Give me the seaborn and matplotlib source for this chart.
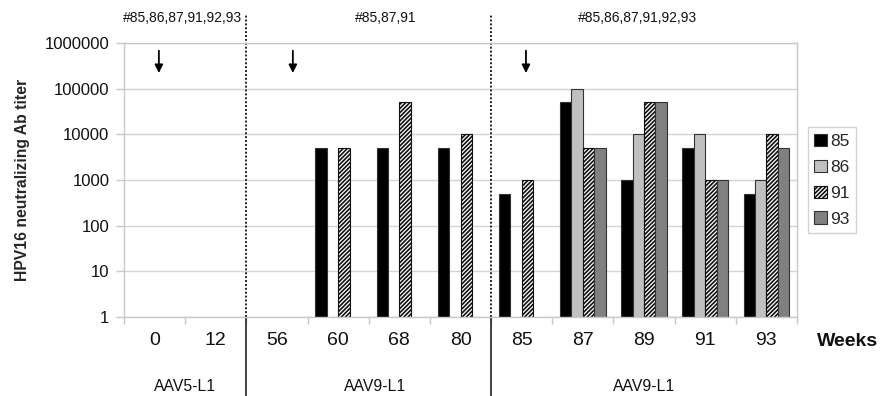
import numpy as np
import pandas as pd
import matplotlib
matplotlib.use("Agg")
import matplotlib.pyplot as plt
import matplotlib.transforms as mtransforms
from matplotlib.ticker import FixedLocator, FuncFormatter, NullLocator, NullFormatter
import seaborn as sns

nan = np.nan
weeks = ['0', '12', '56', '60', '68', '80', '85', '87', '89', '91', '93']
animals = ['85', '86', '91', '93']
titer_85 = [nan, nan, nan, 5000, 5000, 5000, 500, 50000, 1000, 5000, 500]
titer_86 = [nan, nan, nan, nan, nan, nan, nan, 100000, 10000, 10000, 1000]
titer_91 = [nan, nan, nan, 5000, 50000, 10000, 1000, 5000, 50000, 1000, 10000]
titer_93 = [nan, nan, nan, nan, nan, nan, nan, 5000, 50000, 1000, 5000]
vector_labels = ['AAV5-L1', 'AAV9-L1', 'AAV9-L1']
cohort_labels = ['#85,86,87,91,92,93', '#85,87,91', '#85,86,87,91,92,93']
colors = {'85': '#000000', '86': '#c0c0c0', '91': '#ffffff', '93': '#808080'}

sns.set_style("white")
plt.rcParams['font.family'] = ['Liberation Sans', 'DejaVu Sans']
plt.rcParams['hatch.linewidth'] = 1.2

rows = []
for a, vals in zip(animals, [titer_85, titer_86, titer_91, titer_93]):
    for w, v in zip(weeks, vals):
        rows.append({'week': w, 'animal': a, 'titer': v})
df = pd.DataFrame(rows).dropna()

fig = plt.figure(figsize=(8.92, 3.96), dpi=100)
ax = fig.add_axes([124 / 892, 1 - 317 / 396, 673 / 892, 274 / 396])

sns.barplot(data=df, x='week', y='titer', hue='animal', order=weeks,
            hue_order=animals, palette=colors, width=0.745, gap=0,
            errorbar=None, edgecolor='#333333', linewidth=0.8,
            legend=False, ax=ax)
ax.set_yscale('log')

for bar in ax.containers[2]:
    bar.set_hatch('////////')
    bar.set_facecolor('white')
    bar.set_edgecolor('#111111')

ax.set_xlim(-0.5, len(weeks) - 0.5)
ax.set_ylim(1, 1e6)

grid_c = '#c8c8c8'
ax.yaxis.set_major_locator(FixedLocator([1, 10, 100, 1000, 1e4, 1e5, 1e6]))
ax.yaxis.set_minor_locator(NullLocator())
ax.yaxis.set_major_formatter(FuncFormatter(lambda v, p: f"{int(round(v))}"))
ax.grid(axis='y', color='#d4d4d4', linewidth=1)
ax.set_axisbelow(True)
for s in ax.spines.values():
    s.set_color(grid_c)
    s.set_linewidth(1)
ax.tick_params(axis='y', which='major', length=6, color=grid_c, width=1,
               pad=4.5, labelsize=12, labelcolor='#111111', left=True)
ax.tick_params(axis='x', which='major', length=0, pad=11, labelsize=14,
               labelcolor='#111111')
ax.xaxis.set_minor_locator(FixedLocator(np.arange(-0.5, len(weeks), 1)))
ax.xaxis.set_minor_formatter(NullFormatter())
ax.tick_params(axis='x', which='minor', length=5, color=grid_c, width=1,
               bottom=True)

ax.set_xlabel('')
ax.set_ylabel('HPV16 neutralizing Ab titer', fontsize=11.3, fontweight='bold')
ax.yaxis.set_label_coords(-0.14, 0.5)

trans = mtransforms.blended_transform_factory(ax.transData, ax.transAxes)
for xb in [1.5, 5.5]:
    ax.plot([xb, xb], [0, 1.102], transform=trans, color='#222222',
            linestyle=(0, (1, 1)), linewidth=1.4, clip_on=False)
    ax.plot([xb, xb], [0, -0.29], transform=trans, color='#222222',
            linestyle='-', linewidth=1.2, clip_on=False)

for xa in [0.07, 2.26, 6.07]:
    ax.annotate('', xy=(xa, 2.2e5), xytext=(xa, 6.8e5),
                arrowprops=dict(arrowstyle='-|>', color='black', lw=1.3,
                                mutation_scale=12, shrinkA=0, shrinkB=0))

for xt, t in zip([0.45, 3.78, 7.9], cohort_labels):
    ax.text(xt, 1.092, t, transform=trans, ha='center', va='center',
            fontsize=10, color='#111111')

for xt, t in zip([0.5, 3.6, 8.0], vector_labels):
    ax.text(xt, -0.255, t, transform=trans, ha='center', va='center',
            fontsize=11.3, color='#111111')

ax.text(11.33, -0.088, 'Weeks', transform=trans, ha='center', va='center',
        fontsize=14, fontweight='bold', color='#111111')

handles = [ax.containers[i].patches[0] for i in range(len(animals))]
leg = ax.legend(handles, animals, loc='upper left',
                bbox_to_anchor=(1.016, 0.693), borderaxespad=0,
                frameon=True, fancybox=False, fontsize=12.5,
                handlelength=0.7, handleheight=0.7, handletextpad=0.2,
                labelspacing=0.62, borderpad=0.38)
leg.get_frame().set_edgecolor('#c8c8c8')
leg.get_frame().set_linewidth(1)

fig.savefig('out.png', dpi=100)
